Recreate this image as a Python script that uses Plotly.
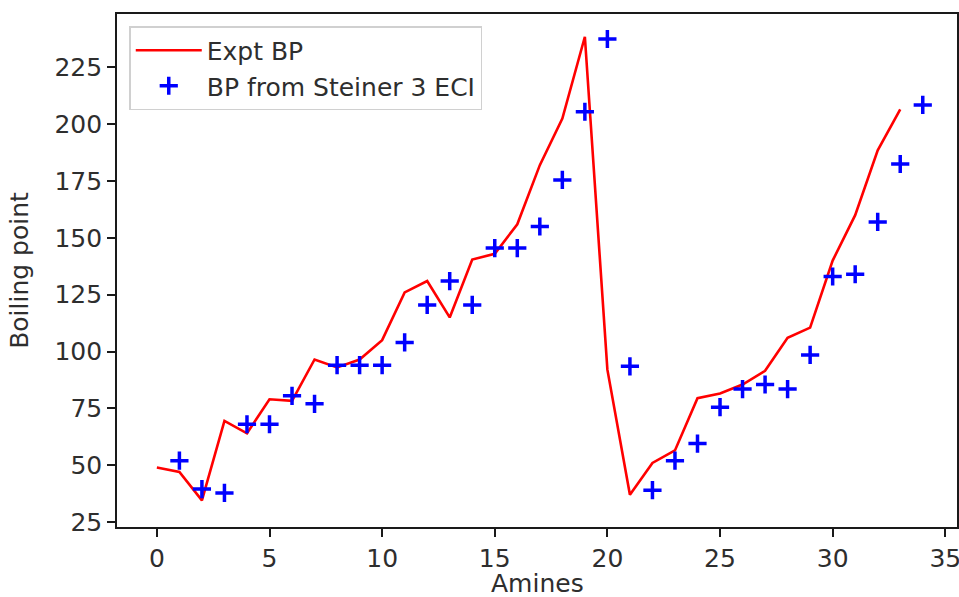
import plotly.graph_objects as go

expt_x = list(range(34))
expt_bp = [49, 47, 34.5, 69.5, 64, 79, 78.3, 96.5, 93, 96.5, 105, 126, 131, 115, 140.5, 143,
           156, 182, 202.5, 238.5, 92, 37, 51, 56.5, 79.5, 81.5, 85.5, 91.5, 106, 110.5,
           140, 160, 188.5, 206.5]

pred_x = list(range(1, 35))
pred_bp = [52, 39.5, 37.8, 68, 68, 80.5, 77, 94, 94, 94, 104, 120.5, 131, 120.5, 145.5,
           145.5, 155, 175.5, 205.5, 237.5, 93.5, 39, 52, 59.5, 75.5, 83.5, 85.5, 83.5,
           98.5, 133, 134, 157, 182.5, 208.5]

x_ticks = [0, 5, 10, 15, 20, 25, 30, 35]
y_ticks = [25, 50, 75, 100, 125, 150, 175, 200, 225]

FONT = "DejaVu Sans"
TXT = "#2e2e2e"
FS = 25

fig = go.Figure()
fig.add_trace(go.Scatter(x=expt_x, y=expt_bp, mode="lines", name="Expt BP",
                         legendgroup="a",
                         line=dict(color="#ff0000", width=2.6)))
fig.add_trace(go.Scatter(x=pred_x, y=pred_bp, mode="markers", name="BP from Steiner 3 ECI",
                         legendgroup="b",
                         marker=dict(symbol="cross-thin", size=13, color="#0000ff",
                                     line=dict(color="#0000ff", width=3.5))))

axis_common = dict(showline=True, mirror=True, linecolor="#1a1a1a", linewidth=1.6,
                   ticks="outside", ticklen=8, tickwidth=1.6, tickcolor="#1a1a1a",
                   showgrid=False, zeroline=False, automargin=False,
                   ticklabeloverflow="allow",
                   tickfont=dict(family=FONT, size=FS, color=TXT))

fig.update_layout(
    width=959, height=597,
    margin=dict(l=117, r=2, t=14, b=70, autoexpand=False),
    paper_bgcolor="white", plot_bgcolor="white",
    font=dict(family=FONT, size=FS, color=TXT),
    xaxis=dict(range=[-1.77, 35.52], tickvals=x_ticks, **axis_common),
    yaxis=dict(range=[22.8, 248.5], tickvals=y_ticks,
               title=dict(text="Boiling point", font=dict(family=FONT, size=FS, color=TXT), standoff=19),
               **axis_common),
    legend=dict(x=0.0146, y=0.9766, xanchor="left", yanchor="top",
                bgcolor="rgba(255,255,255,0.8)", bordercolor="#d0d0d0", borderwidth=1.5,
                font=dict(family=FONT, size=FS, color=TXT),
                itemwidth=66, tracegroupgap=0),
    showlegend=True,
    annotations=[dict(text="Amines", x=0.5, y=0, xref="paper", yref="paper",
                      xanchor="center", yanchor="middle", yshift=-56, showarrow=False,
                      font=dict(family=FONT, size=FS, color=TXT))],
)

fig.write_html("out.html",
               config={"displayModeBar": False},
               post_script="document.body.style.margin='0';document.body.style.overflow='hidden';")
